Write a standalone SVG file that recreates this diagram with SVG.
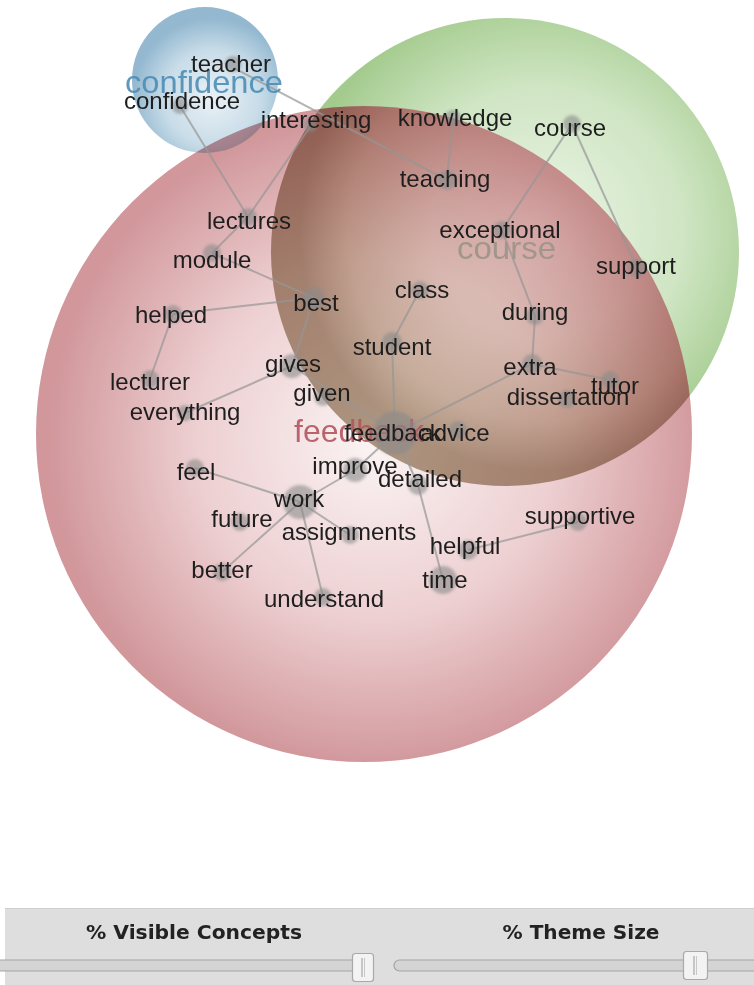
<svg xmlns="http://www.w3.org/2000/svg" width="754" height="985" viewBox="0 0 754 985">
<style>
.lbl{font-family:"Liberation Sans",Arial,sans-serif;font-size:24px;fill:#1e1e1e;text-anchor:middle}
.theme{font-family:"Liberation Sans",Arial,sans-serif;font-size:32px}
.dot{fill:#8a8a8a;fill-opacity:0.6;filter:url(#soft)}
.edge{stroke:#959595;stroke-width:2;stroke-opacity:0.7;fill:none}
.ui{font-family:"DejaVu Sans",Tahoma,sans-serif;font-weight:bold;font-size:19.5px;fill:#222;text-anchor:middle}
.track{fill:#d4d4d4;stroke:#a4a4a4;stroke-width:1.2}
.thumb{fill:#f3f3f3;stroke:#a9a9a9;stroke-width:1.2}
.mul{mix-blend-mode:multiply}
</style>
<defs>
<filter id="soft" x="-50%" y="-50%" width="200%" height="200%"><feGaussianBlur stdDeviation="1.8"/></filter>
<radialGradient id="gRed" cx="376" cy="440" r="328" gradientUnits="userSpaceOnUse">
<stop offset="0" stop-color="#fbf4f4"/>
<stop offset="0.55" stop-color="#edcfd1"/>
<stop offset="1" stop-color="#d1979b"/>
</radialGradient>
<radialGradient id="gGreen" cx="540" cy="230" r="240" gradientUnits="userSpaceOnUse">
<stop offset="0" stop-color="#ecf5e7"/>
<stop offset="0.6" stop-color="#cfe5c3"/>
<stop offset="1" stop-color="#a4cb8e"/>
</radialGradient>
<radialGradient id="gShade" cx="540" cy="230" r="240" gradientUnits="userSpaceOnUse">
<stop offset="0" stop-color="#f6f3ee"/>
<stop offset="0.45" stop-color="#e8e1d6"/>
<stop offset="0.8" stop-color="#cfc1ad"/>
<stop offset="1" stop-color="#b09d86"/>
</radialGradient>
<radialGradient id="gBlue" cx="212" cy="98" r="80" gradientUnits="userSpaceOnUse">
<stop offset="0" stop-color="#eaf1f6"/>
<stop offset="0.6" stop-color="#c8dce8"/>
<stop offset="1" stop-color="#93b8d0"/>
</radialGradient>
<clipPath id="clipRed"><circle cx="364" cy="434" r="328"/></clipPath>
</defs>
<rect width="754" height="985" fill="#ffffff"/>

<g id="theme-course-circle"><circle cx="505" cy="252" r="234" fill="url(#gGreen)"/></g>
<g id="theme-feedback-circle"><circle cx="364" cy="434" r="328" fill="url(#gRed)"/></g>
<g id="theme-overlap" class="mul" clip-path="url(#clipRed)"><circle cx="505" cy="252" r="234" fill="url(#gShade)"/></g>
<g id="theme-confidence-circle" class="mul"><circle cx="205" cy="80" r="73" fill="url(#gBlue)"/></g>

<g id="connectors">
<line class="edge" x1="234" y1="68" x2="447" y2="180"/>
<line class="edge" x1="180" y1="106" x2="248" y2="217"/>
<line class="edge" x1="310" y1="127" x2="248" y2="217"/>
<line class="edge" x1="453" y1="118" x2="447" y2="180"/>
<line class="edge" x1="572" y1="124" x2="502" y2="230"/>
<line class="edge" x1="572" y1="124" x2="637" y2="268"/>
<line class="edge" x1="248" y1="217" x2="212" y2="253"/>
<line class="edge" x1="212" y1="253" x2="314" y2="298"/>
<line class="edge" x1="173" y1="314" x2="314" y2="298"/>
<line class="edge" x1="173" y1="314" x2="150" y2="379"/>
<line class="edge" x1="314" y1="298" x2="292" y2="366"/>
<line class="edge" x1="292" y1="366" x2="185" y2="413"/>
<line class="edge" x1="292" y1="366" x2="395" y2="433"/>
<line class="edge" x1="420" y1="290" x2="392" y2="342"/>
<line class="edge" x1="392" y1="342" x2="395" y2="433"/>
<line class="edge" x1="502" y1="230" x2="535" y2="316"/>
<line class="edge" x1="535" y1="316" x2="532" y2="364"/>
<line class="edge" x1="532" y1="364" x2="610" y2="380"/>
<line class="edge" x1="532" y1="364" x2="395" y2="433"/>
<line class="edge" x1="395" y1="433" x2="355" y2="470"/>
<line class="edge" x1="355" y1="470" x2="300" y2="502"/>
<line class="edge" x1="395" y1="433" x2="418" y2="485"/>
<line class="edge" x1="418" y1="485" x2="443" y2="580"/>
<line class="edge" x1="195" y1="468" x2="300" y2="502"/>
<line class="edge" x1="300" y1="502" x2="222" y2="572"/>
<line class="edge" x1="300" y1="502" x2="350" y2="535"/>
<line class="edge" x1="300" y1="502" x2="323" y2="597"/>
<line class="edge" x1="468" y1="550" x2="578" y2="522"/>
</g>

<g id="theme-labels">
<text class="theme" x="125" y="93" fill="#4c8db5" fill-opacity="0.9" textLength="158" lengthAdjust="spacingAndGlyphs">confidence</text>
<text class="theme" x="457" y="259" fill="#a0968a" textLength="99" lengthAdjust="spacingAndGlyphs">course</text>
<text class="theme" x="294" y="442" fill="#b4545e" fill-opacity="0.9">feedback</text>
</g>

<g id="node-teacher"><circle class="dot" cx="233" cy="64" r="8"/><text class="lbl" x="231" y="72">teacher</text></g>
<g id="node-confidence"><circle class="dot" cx="180" cy="106" r="8"/><text class="lbl" x="182" y="109">confidence</text></g>
<g id="node-interesting"><circle class="dot" cx="310" cy="125" r="7"/><text class="lbl" x="316" y="128">interesting</text></g>
<g id="node-knowledge"><circle class="dot" cx="453" cy="118" r="8"/><text class="lbl" x="455" y="126">knowledge</text></g>
<g id="node-course"><circle class="dot" cx="572" cy="124" r="9"/><text class="lbl" x="570" y="136">course</text></g>
<g id="node-teaching"><circle class="dot" cx="447" cy="180" r="10"/><text class="lbl" x="445" y="187">teaching</text></g>
<g id="node-lectures"><circle class="dot" cx="248" cy="217" r="9"/><text class="lbl" x="249" y="229">lectures</text></g>
<g id="node-module"><circle class="dot" cx="212" cy="253" r="9"/><text class="lbl" x="212" y="268">module</text></g>
<g id="node-exceptional"><circle class="dot" cx="502" cy="230" r="9"/><text class="lbl" x="500" y="238">exceptional</text></g>
<g id="node-support"><circle class="dot" cx="637" cy="268" r="9"/><text class="lbl" x="636" y="274">support</text></g>
<g id="node-class"><circle class="dot" cx="420" cy="290" r="9"/><text class="lbl" x="422" y="298">class</text></g>
<g id="node-best"><circle class="dot" cx="314" cy="298" r="11"/><text class="lbl" x="316" y="311">best</text></g>
<g id="node-helped"><circle class="dot" cx="173" cy="314" r="9"/><text class="lbl" x="171" y="323">helped</text></g>
<g id="node-during"><circle class="dot" cx="535" cy="316" r="9"/><text class="lbl" x="535" y="320">during</text></g>
<g id="node-student"><circle class="dot" cx="392" cy="342" r="10"/><text class="lbl" x="392" y="355">student</text></g>
<g id="node-gives"><circle class="dot" cx="292" cy="366" r="12"/><text class="lbl" x="293" y="372">gives</text></g>
<g id="node-extra"><circle class="dot" cx="532" cy="364" r="10"/><text class="lbl" x="530" y="375">extra</text></g>
<g id="node-lecturer"><circle class="dot" cx="150" cy="379" r="9"/><text class="lbl" x="150" y="390">lecturer</text></g>
<g id="node-given"><circle class="dot" cx="323" cy="397" r="9"/><text class="lbl" x="322" y="401">given</text></g>
<g id="node-tutor"><circle class="dot" cx="610" cy="380" r="9"/><text class="lbl" x="615" y="394">tutor</text></g>
<g id="node-dissertation"><circle class="dot" cx="567" cy="399" r="9"/><text class="lbl" x="568" y="405">dissertation</text></g>
<g id="node-everything"><circle class="dot" cx="185" cy="413" r="8"/><text class="lbl" x="185" y="420">everything</text></g>
<g id="node-feedback"><circle class="dot" cx="395" cy="433" r="22"/><text class="lbl" x="393" y="441">feedback</text></g>
<g id="node-advice"><circle class="dot" cx="458" cy="430" r="9"/><text class="lbl" x="455" y="441">advice</text></g>
<g id="node-feel"><circle class="dot" cx="195" cy="468" r="9"/><text class="lbl" x="196" y="480">feel</text></g>
<g id="node-improve"><circle class="dot" cx="355" cy="470" r="12"/><text class="lbl" x="355" y="474">improve</text></g>
<g id="node-detailed"><circle class="dot" cx="418" cy="485" r="10"/><text class="lbl" x="420" y="487">detailed</text></g>
<g id="node-work"><circle class="dot" cx="300" cy="502" r="17"/><text class="lbl" x="299" y="507">work</text></g>
<g id="node-future"><circle class="dot" cx="240" cy="522" r="9"/><text class="lbl" x="242" y="527">future</text></g>
<g id="node-supportive"><circle class="dot" cx="578" cy="522" r="9"/><text class="lbl" x="580" y="524">supportive</text></g>
<g id="node-assignments"><circle class="dot" cx="350" cy="535" r="9"/><text class="lbl" x="349" y="540">assignments</text></g>
<g id="node-helpful"><circle class="dot" cx="468" cy="550" r="10"/><text class="lbl" x="465" y="554">helpful</text></g>
<g id="node-better"><circle class="dot" cx="222" cy="572" r="9"/><text class="lbl" x="222" y="578">better</text></g>
<g id="node-time"><circle class="dot" cx="443" cy="580" r="14"/><text class="lbl" x="445" y="588">time</text></g>
<g id="node-understand"><circle class="dot" cx="323" cy="597" r="9"/><text class="lbl" x="324" y="607">understand</text></g>

<g id="controls">
<rect x="5" y="908" width="749" height="77" fill="#dedede"/>
<line x1="5" y1="908.5" x2="754" y2="908.5" stroke="#cfcfcf"/>
<text class="ui" x="194" y="939" textLength="216" lengthAdjust="spacingAndGlyphs">% Visible Concepts</text>
<text class="ui" x="581" y="939" textLength="157" lengthAdjust="spacingAndGlyphs">% Theme Size</text>
<rect class="track" x="-6" y="960" width="364" height="11" rx="5.5"/>
<rect class="track" x="394" y="960" width="372" height="11" rx="5.5"/>
<rect class="thumb" x="352.5" y="953.5" width="21" height="28" rx="3"/>
<line x1="362" y1="958" x2="362" y2="977" stroke="#9a9a9a" stroke-width="1"/>
<line x1="364.5" y1="958" x2="364.5" y2="977" stroke="#c8c8c8" stroke-width="1"/>
<rect class="thumb" x="683.5" y="951.5" width="24" height="28" rx="3"/>
<line x1="694" y1="956" x2="694" y2="975" stroke="#9a9a9a" stroke-width="1"/>
<line x1="696.5" y1="956" x2="696.5" y2="975" stroke="#c8c8c8" stroke-width="1"/>
</g>
</svg>
